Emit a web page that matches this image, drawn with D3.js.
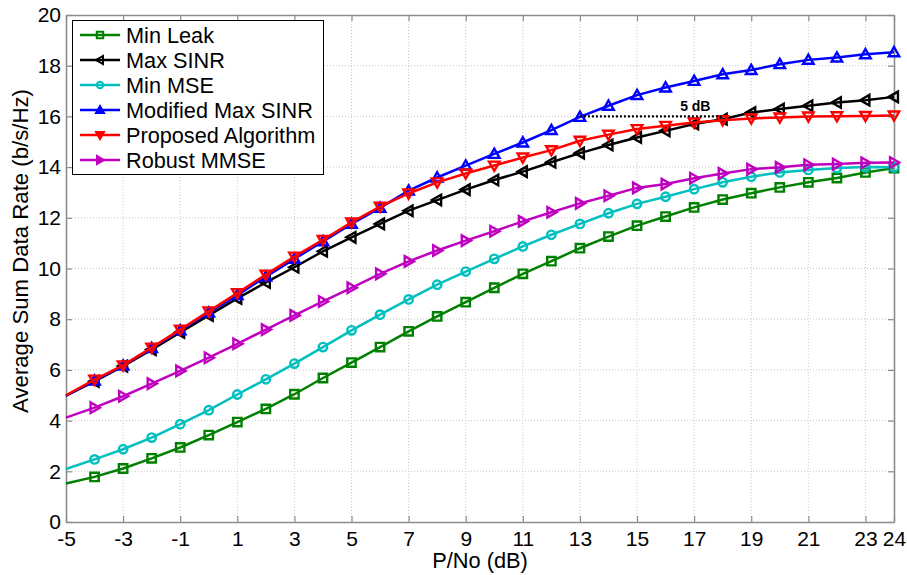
<!DOCTYPE html>
<html><head><meta charset="utf-8">
<script src="https://cdn.jsdelivr.net/npm/d3@7"></script>
<style>body{margin:0;background:#fff}svg{display:block}text{font-family:"Liberation Sans",Arial,sans-serif}</style>
</head><body><svg id="c" width="907" height="575"></svg>
<script>
const xValues = [-5,-4,-3,-2,-1,0,1,2,3,4,5,6,7,8,9,10,11,12,13,14,15,16,17,18,19,20,21,22,23,24];
const minLeak = [1.52,1.78,2.11,2.51,2.94,3.43,3.94,4.46,5.04,5.68,6.29,6.90,7.52,8.11,8.67,9.24,9.79,10.29,10.80,11.26,11.69,12.05,12.41,12.72,12.97,13.20,13.40,13.57,13.79,13.96];
const maxSINR = [4.98,5.55,6.15,6.80,7.48,8.15,8.82,9.45,10.05,10.68,11.23,11.76,12.28,12.70,13.11,13.49,13.82,14.19,14.55,14.87,15.17,15.43,15.70,15.89,16.15,16.29,16.42,16.55,16.64,16.77];
const minMSE = [2.09,2.47,2.87,3.33,3.86,4.41,5.03,5.63,6.25,6.90,7.56,8.18,8.78,9.36,9.88,10.38,10.87,11.33,11.76,12.18,12.55,12.83,13.13,13.40,13.62,13.79,13.89,13.96,14.00,13.99];
const modMaxSINR = [4.98,5.58,6.17,6.86,7.56,8.26,8.95,9.68,10.38,11.07,11.76,12.39,13.07,13.59,14.06,14.52,14.97,15.46,15.98,16.42,16.84,17.14,17.40,17.66,17.83,18.06,18.23,18.32,18.45,18.53];
const proposed = [5.00,5.62,6.18,6.88,7.59,8.31,9.03,9.76,10.47,11.13,11.82,12.44,12.96,13.40,13.75,14.06,14.38,14.67,15.04,15.28,15.50,15.63,15.76,15.85,15.92,15.96,16.00,16.01,16.02,16.04];
const robustMMSE = [4.12,4.51,4.96,5.46,5.96,6.48,7.03,7.59,8.15,8.70,9.24,9.79,10.28,10.71,11.10,11.47,11.86,12.22,12.57,12.87,13.18,13.33,13.56,13.75,13.92,13.99,14.09,14.12,14.17,14.18];
const seriesNames = ["Min Leak","Max SINR","Min MSE","Modified Max SINR","Proposed Algorithm","Robust MMSE"];
const xTicks = [-5,-3,-1,1,3,5,7,9,11,13,15,17,19,21,23,24];
const yTicks = [0,2,4,6,8,10,12,14,16,18,20];
const gapLine = {x0:13, x1:18, y:16.0, label:"5 dB"};

const series = [
  {name:seriesNames[0], values:minLeak, color:"#008000", marker:"square"},
  {name:seriesNames[1], values:maxSINR, color:"#000000", marker:"left"},
  {name:seriesNames[2], values:minMSE, color:"#00bfbf", marker:"circle"},
  {name:seriesNames[3], values:modMaxSINR, color:"#0000ff", marker:"up"},
  {name:seriesNames[4], values:proposed, color:"#ff0000", marker:"down"},
  {name:seriesNames[5], values:robustMMSE, color:"#bf00bf", marker:"right"}
];

const svg = d3.select("#c");
const L=66, R=894, T=15, B=522;
const x = d3.scaleLinear().domain([-5,24]).range([L,R]);
const y = d3.scaleLinear().domain([0,20]).range([B,T]);

// grid
const grid = svg.append("g");
grid.selectAll("line.gx").data(xTicks.filter(d=>d>-5&&d<24)).enter().append("line")
  .attr("x1",d=>x(d)).attr("x2",d=>x(d)).attr("y1",T).attr("y2",B)
  .attr("stroke","#c8c8c8").attr("stroke-width",1).attr("stroke-dasharray","1,2");
grid.selectAll("line.gy").data(yTicks.filter(d=>d>0&&d<20)).enter().append("line")
  .attr("x1",L).attr("x2",R).attr("y1",d=>y(d)).attr("y2",d=>y(d))
  .attr("stroke","#c8c8c8").attr("stroke-width",1).attr("stroke-dasharray","1,2");

// axes
const fs = 21;
const fmt = d=>String(d);
const axB = svg.append("g").attr("transform",`translate(0,${B})`)
  .call(d3.axisBottom(x).tickValues(xTicks).tickFormat(fmt).tickSizeInner(-6).tickSizeOuter(0).tickPadding(9));
const axT = svg.append("g").attr("transform",`translate(0,${T})`)
  .call(d3.axisTop(x).tickValues(xTicks).tickFormat("").tickSizeInner(-6).tickSizeOuter(0));
const axL = svg.append("g").attr("transform",`translate(${L},0)`)
  .call(d3.axisLeft(y).tickValues(yTicks).tickFormat(fmt).tickSizeInner(-6).tickSizeOuter(0).tickPadding(5));
const axR = svg.append("g").attr("transform",`translate(${R},0)`)
  .call(d3.axisRight(y).tickValues(yTicks).tickFormat("").tickSizeInner(-6).tickSizeOuter(0));
[axB,axT,axL,axR].forEach(a=>{
  a.select(".domain").attr("stroke","#8c8c8c").attr("stroke-width",1.6);
  a.selectAll(".tick line").attr("stroke","#8c8c8c").attr("stroke-width",1.2);
  a.selectAll("text").attr("font-size",fs).attr("fill","#000").attr("font-family","Liberation Sans, Arial, sans-serif");
});

svg.append("text").attr("x",(L+R)/2).attr("y",568).attr("text-anchor","middle")
  .attr("font-size",21.8).text("P/No (dB)");
svg.append("text").attr("transform",`translate(27.5,251) rotate(-90)`).attr("text-anchor","middle")
  .attr("font-size",22.2).text("Average Sum Data Rate (b/s/Hz)");

// markers
function markerPath(type, s){
  const h=s/2;
  switch(type){
    case "square": return `M${-h*0.8},${-h*0.8}H${h*0.8}V${h*0.8}H${-h*0.8}Z`;
    case "circle": return d3.symbol(d3.symbolCircle, Math.PI*(h*0.8)*(h*0.8))();
    case "up": return `M0,${-h}L${h},${h*0.75}L${-h},${h*0.75}Z`;
    case "down": return `M0,${h}L${h},${-h*0.75}L${-h},${-h*0.75}Z`;
    case "left": return `M${-h},0L${h*0.75},${-h}L${h*0.75},${h}Z`;
    case "right": return `M${h},0L${-h*0.75},${-h}L${-h*0.75},${h}Z`;
  }
}

const line = d3.line().x((d,i)=>x(xValues[i])).y(d=>y(d));
const plot = svg.append("g");
series.forEach(s=>{
  const g = plot.append("g");
  g.append("path").attr("d",line(s.values)).attr("fill","none").attr("stroke",s.color).attr("stroke-width",2.5);
  g.selectAll("path.m").data(s.values.map((v,i)=>[xValues[i],v]).filter(d=>d[0]>-5)).enter().append("path")
    .attr("transform",d=>`translate(${x(d[0])},${y(d[1])})`)
    .attr("d",markerPath(s.marker,10.5)).attr("fill","none").attr("stroke",s.color).attr("stroke-width",2.4);
});

// 5 dB annotation
svg.append("line").attr("x1",x(gapLine.x0)).attr("x2",x(gapLine.x1)).attr("y1",y(gapLine.y)).attr("y2",y(gapLine.y))
  .attr("stroke","#000").attr("stroke-width",2.4).attr("stroke-dasharray","2,2");
svg.append("text").attr("x",(x(gapLine.x0)+x(gapLine.x1))/2+44).attr("y",y(gapLine.y)-5).attr("text-anchor","middle")
  .attr("font-size",14).attr("font-weight","bold").text(gapLine.label);

// legend
const lg = svg.append("g");
lg.append("rect").attr("x",72.5).attr("y",20.5).attr("width",251).attr("height",154)
  .attr("fill","#fff").attr("stroke","#000").attr("stroke-width",1);
series.forEach((s,i)=>{
  const cy = 35 + i*25;
  lg.append("line").attr("x1",80).attr("x2",120).attr("y1",cy).attr("y2",cy).attr("stroke",s.color).attr("stroke-width",2.5);
  lg.append("path").attr("transform",`translate(100,${cy})`).attr("d",markerPath(s.marker,8))
    .attr("fill", (s.marker==="up"||s.marker==="down"||s.marker==="right")? s.color : "none")
    .attr("stroke",s.color).attr("stroke-width",2);
  lg.append("text").attr("x",126).attr("y",cy+7.5).attr("font-size",21.7).text(s.name);
});
</script></body></html>
